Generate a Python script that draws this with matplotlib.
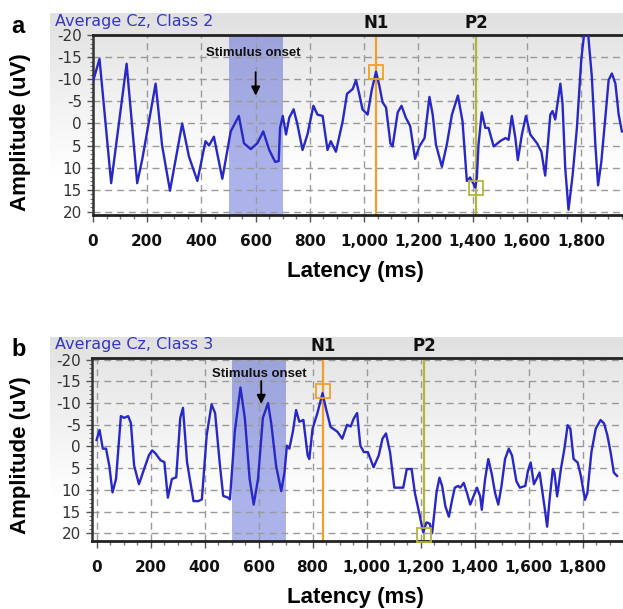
import numpy as np
import matplotlib
matplotlib.use("Agg")
import matplotlib.pyplot as plt
from matplotlib.colors import LinearSegmentedColormap

# ---------------- data ----------------
t_a = [0, 24, 67, 124, 163, 182, 231, 255, 284, 329, 354, 385, 415, 428, 446, 477, 508,
       538, 557, 582, 606, 628, 650, 672, 685, 690, 700, 712, 724, 740, 754, 773, 791, 813,
       828, 847, 865, 877, 896, 921, 937, 958, 970, 982, 994, 1013, 1028, 1044, 1056, 1068,
       1081, 1097, 1105, 1124, 1138, 1154, 1170, 1188, 1204, 1223, 1241, 1253, 1265, 1287,
       1305, 1324, 1346, 1363, 1379, 1391, 1404, 1410, 1416, 1422, 1434, 1447, 1459, 1478,
       1502, 1521, 1533, 1545, 1558, 1567, 1582, 1597, 1613, 1638, 1654, 1668, 1687, 1695,
       1705, 1724, 1732, 1742, 1754, 1769, 1785, 1801, 1812, 1826, 1840, 1853, 1863, 1875,
       1892, 1902, 1914, 1927, 1939, 1951]
v_a = [-9.5, -14.6, 13.5, -13.5, 13.5, 8, -9, 5, 15.2, 0, 7.5, 13, 4, 5, 3, 12.5, 1.8,
       -1.7, 4.5, 5.8, 4.5, 1.8, 6, 8.7, 8.5, 1, -1.7, 2.5, -1.3, -3.2, 0.2, 6, 2.5, -4,
       -2, -1.7, 6, 4, 6.4, -0.5, -6.7, -7.8, -9.8, -6.7, -3.2, -2, -7.5, -11.7, -8.6, -4.8,
       -3.6, 4.5, 5.2, -2.5, -4, -1.3, 0.6, 8, 5.2, 3.3, -6, -2, 4.8, 9.8,
       4.8, -2, -6.3, -0.5, 13, 12.2, 13.7, 14.5, 12.2, 4.8, -2.5, 1, 1, 5.2,
       4, 3.3, 3.7, -1.7, 3.3, 8.3, 2.5, -1.7, 2.5, 4.5, 6.4, 11.8, -2, -2.8,
       -0.9, -9, -4.4, 10.2, 19.5, 11.8, 1, -14.4, -20.5, -20.5, -10.6, 4.8, 14, 8.7,
       -2.8, -9.8, -11.3, -9, -2, 1.8]

t_b = [0, 11, 23, 35, 47, 59, 72, 90, 102, 117, 127, 139, 157, 176, 194, 206, 218, 237,
       251, 264, 279, 295, 310, 320, 335, 359, 377, 390, 408, 426, 439, 457, 469, 487, 494,
       512, 533, 549, 567, 582, 598, 616, 635, 647, 665, 684, 696, 705, 714, 727, 739, 751,
       766, 782, 788, 800, 818, 837, 851, 867, 892, 910, 928, 941, 953, 965, 977, 990, 1005,
       1026, 1045, 1059, 1072, 1087, 1103, 1118, 1136, 1149, 1167, 1179, 1198, 1210, 1222,
       1234, 1243, 1259, 1270, 1280, 1292, 1305, 1317, 1327, 1339, 1347, 1360, 1372, 1384,
       1396, 1409, 1421, 1427, 1439, 1451, 1464, 1476, 1488, 1500, 1513, 1527, 1539, 1555,
       1568, 1588, 1598, 1608, 1620, 1632, 1641, 1650, 1659, 1669, 1678, 1690, 1696, 1706,
       1720, 1733, 1745, 1755, 1767, 1782, 1794, 1809, 1818, 1833, 1849, 1867, 1880, 1892,
       1904, 1916, 1928]
v_b = [-1.5, -3.8, 0.5, 0.5, 4.4, 10.6, 7.5, -7, -6.6, -7, -5.4, 4.4, 8.7, 5.2, 2, 0.9, 1.6, 3.2,
       3.6, 11.8, 7.5, 7.1, -6.6, -8.9, 3.6, 12.6, 12.6, 12.2, -2.7, -9.7, -7.7, 4.4, 11.4, 11.8, 12.2,
       -3.4, -13.6, -6.6, 7.5, 13.4, 7.5, -6.6, -10, -5.3, 4.5, 10.3, 6, -0.2, 0.5, -3.4, -8.4, -5.7,
       -6.1, 2.1, 2.9, -4.1, -7.7, -12.3, -8.4, -4.5, -3.4, -1.8, -5, -4.6, -6.5, -7.7, -0.2, 1.3, 1.3,
       4.8, 2.1, -1.8, -3, 1.3, 9.5, 9.5, 9.5, 5.2, 5.2, 10.7, 16.2, 19.8, 17.5,
       17.8, 20, 10.7, 7.2, 9.1, 13.8, 16.2, 12.3, 9.5, 9.1, 9.5, 8.4, 10.7, 13.4,
       11.5, 9.5, 11.5, 14.6, 7.6, 2.9, 6.4, 10.7, 13.4, 9.1, 2.9, 0.5, 2.1, 8,
       9.5, 9.1, 5.6, 3.7, 8.7, 7.2, 6, 9.9, 13.8, 18.5, 12.3, 5.2, 6, 11.5,
       5.2, 0.5, -4.9, -4.1, 2.9, 3.7, 6.8, 12.3, 10.7, 1.3, -4.1, -6.1, -5.3, -2.6,
       1.3, 6, 6.8]

titles = ["Average Cz, Class 2", "Average Cz, Class 3"]
panel_letters = ["a", "b"]
n1_a = (1044, -11.7)
p2_a = (1413, 14.5)
n1_b = (840, -12.9)
p2_b = (1214, 20.5)
stim_window = (500, 700)
xticks = [0, 200, 400, 600, 800, 1000, 1200, 1400, 1600, 1800]
xtick_labels = ["0", "200", "400", "600", "800", "1,000", "1,200", "1,400", "1,600", "1,800"]
yticks = [-20, -15, -10, -5, 0, 5, 10, 15, 20]
ytick_labels = ["-20", "-15", "-10", "-5", "0", "5", "10", "15", "20"]

# ---------------- figure ----------------
W, H = 623, 609
fig = plt.figure(figsize=(W / 100, H / 100), dpi=100)

def fx(px):
    return px / W

def fy(py):
    return 1 - py / H

bg_cmap = LinearSegmentedColormap.from_list(
    "bg", [(0, "#e0e0e0"), (0.12, "#e6e6e6"), (0.75, "#ffffff"), (1, "#ffffff")])

BLUE = "#2828c8"
N1C = "#f0a028"
P2C = "#b5b538"

panels = [
    dict(t=t_a, v=v_a, title=titles[0], letter=panel_letters[0], n1=n1_a, p2=p2_a,
         box=(93, 35, 623, 215), bg=(50, 13, 623, 226), xlim=(0, 1955), ylim=(20.7, -20),
         stim_text=(592, -15.9), arrow=(600, -11.6, -6.3), xlab_y=272, ylab_y=132),
    dict(t=t_b, v=v_b, title=titles[1], letter=panel_letters[1], n1=n1_b, p2=p2_b,
         box=(92, 358, 623, 541), bg=(50, 337, 623, 551), xlim=(-17, 1928), ylim=(21.8, -20.4),
         stim_text=(602, -16.8), arrow=(610, -15.1, -9.8), xlab_y=598, ylab_y=455),
]

for p in panels:
    bx0, by0, bx1, by1 = p["bg"]
    bg = fig.add_axes([fx(bx0), fy(by1), fx(bx1 - bx0), (by1 - by0) / H], zorder=0)
    grad = np.linspace(0, 1, 256).reshape(-1, 1)
    bg.imshow(grad, aspect="auto", cmap=bg_cmap, extent=(0, 1, 0, 1), origin="upper")
    bg.set_axis_off()

    x0, y0, x1, y1 = p["box"]
    ax = fig.add_axes([fx(x0), fy(y1), fx(x1 - x0), (y1 - y0) / H], zorder=2)
    ax.patch.set_alpha(0)
    ax.set_xlim(*p["xlim"])
    ax.set_ylim(*p["ylim"])

    ax.axvspan(stim_window[0], stim_window[1], color="#3a4ad0", alpha=0.42, lw=0, zorder=1)

    for gx in xticks:
        ax.axvline(gx, color="#9a9a9a", lw=1.0, ls=(0, (5, 3.5)), zorder=1.5)
    for gy in yticks:
        ax.axhline(gy, color="#9a9a9a", lw=1.0, ls=(0, (5, 3.5)), zorder=1.5)

    ax.axvline(p["n1"][0], color=N1C, lw=1.6, zorder=2)
    ax.axvline(p["p2"][0], color=P2C, lw=1.6, zorder=2)

    ax.plot(p["t"], p["v"], color=BLUE, lw=1.7, zorder=3, solid_joinstyle="round")

    ax.plot([p["n1"][0]], [p["n1"][1]], marker="s", ms=10.5, mfc="none", mec=N1C, mew=1.3,
            zorder=4, clip_on=False)
    ax.plot([p["p2"][0]], [p["p2"][1]], marker="s", ms=10.5, mfc="none", mec=P2C, mew=1.3,
            zorder=4, clip_on=False)

    ax.set_xticks(xticks)
    ax.set_xticklabels(xtick_labels, fontfamily="DejaVu Sans", fontweight="bold",
                       fontsize=11, color="#111111")
    ax.set_xticks(np.arange(0, 1951, 50), minor=True)
    ax.set_yticks(yticks)
    ax.set_yticklabels(ytick_labels, fontfamily="DejaVu Sans", fontsize=11, color="#333333")
    ax.set_yticks(np.arange(-20, 21, 1), minor=True)
    ax.tick_params(axis="x", which="major", direction="out", length=5, width=1, color="#555555",
                   pad=9)
    ax.tick_params(axis="x", which="minor", direction="out", length=3, width=1, color="#777777")
    ax.tick_params(axis="y", which="major", direction="out", length=4, width=1, color="#555555",
                   pad=4)
    ax.tick_params(axis="y", which="minor", direction="out", length=2, width=0.8, color="#777777")

    for side in ("top", "bottom"):
        ax.spines[side].set_linewidth(2.0)
        ax.spines[side].set_color("#222222")
    ax.spines["left"].set_linewidth(1.8)
    ax.spines["left"].set_color("#333333")
    ax.spines["right"].set_visible(False)

    # title bar text
    fig.text(fx(55), fy(y0 - 9), p["title"], color="#3535c8", fontsize=11.5,
             fontfamily="DejaVu Sans", ha="left", va="baseline", zorder=5)

    # N1 / P2 labels
    for (lx, _), lab in ((p["n1"], "N1"), (p["p2"], "P2")):
        ax.annotate(lab, xy=(lx, 1.0), xycoords=("data", "axes fraction"),
                    xytext=(0, 2), textcoords="offset points", ha="center", va="bottom",
                    fontsize=12, fontweight="bold", fontfamily="DejaVu Sans", color="#111111",
                    zorder=6, annotation_clip=False)

    # stimulus onset
    ax.text(p["stim_text"][0], p["stim_text"][1], "Stimulus onset", ha="center", va="center",
            fontsize=9.5, fontweight="bold", fontfamily="Liberation Sans", color="#111111",
            zorder=6)
    axx, ay0, ay1 = p["arrow"]
    ax.annotate("", xy=(axx, ay1), xytext=(axx, ay0),
                arrowprops=dict(arrowstyle="-|>", mutation_scale=13, color="black", lw=1.3,
                                shrinkA=0, shrinkB=0), zorder=6)

    # panel letter
    fig.text(fx(11), fy(y0 - 2), p["letter"], fontsize=17, fontweight="bold",
             fontfamily="Liberation Sans", ha="left", va="baseline")

    # axis labels
    fig.text(fx(355), fy(p["xlab_y"]), "Latency (ms)", fontsize=16, fontweight="bold",
             fontfamily="Liberation Sans", ha="center", va="center")
    fig.text(fx(21), fy(p["ylab_y"]), "Amplitude (uV)", fontsize=16, fontweight="bold",
             fontfamily="Liberation Sans", ha="center", va="center", rotation=90)

fig.savefig("out.png", dpi=100)
